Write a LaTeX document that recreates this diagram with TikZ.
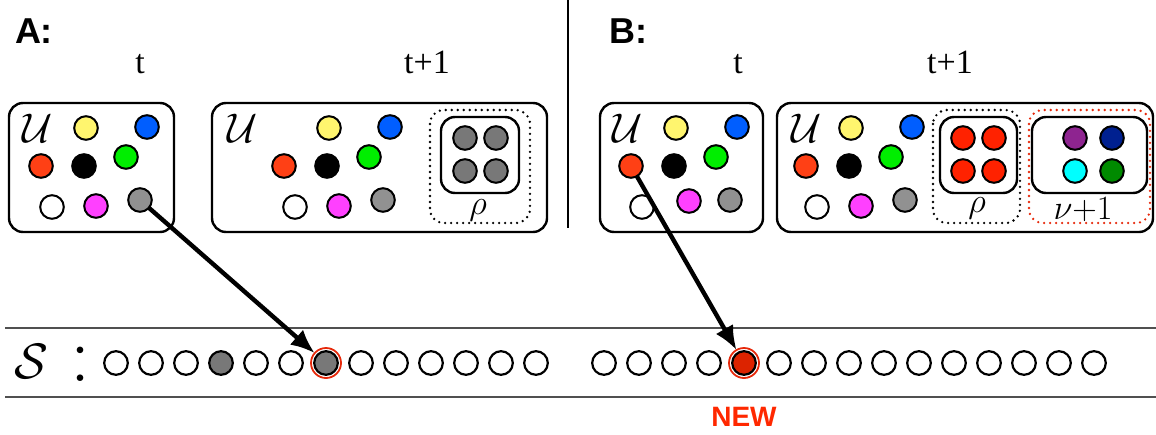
\documentclass[tikz,border=0pt]{standalone}
\usepackage{fontspec}
\usetikzlibrary{arrows.meta}
\newfontfamily\labelsans{Liberation Sans}
\newfontfamily\labelserif{Liberation Serif}

\definecolor{dotyellow}{RGB}{255,245,110}
\definecolor{dotblue}{RGB}{0,94,255}
\definecolor{dotred}{RGB}{255,64,21}
\definecolor{dotblack}{RGB}{0,0,0}
\definecolor{dotgreen}{RGB}{0,238,0}
\definecolor{dotwhite}{RGB}{255,255,255}
\definecolor{dotmagenta}{RGB}{255,64,255}
\definecolor{dotgray}{RGB}{145,145,145}
\definecolor{clustergray}{RGB}{120,120,120}
\definecolor{clusterred}{RGB}{255,34,0}
\definecolor{dotpurple}{RGB}{142,36,144}
\definecolor{dotnavy}{RGB}{0,32,144}
\definecolor{dotcyan}{RGB}{0,255,255}
\definecolor{dotdkgreen}{RGB}{0,138,0}
\definecolor{slotgray}{RGB}{120,120,120}
\definecolor{slotred}{RGB}{220,35,0}
\definecolor{ringred}{RGB}{230,40,10}
\definecolor{newred}{RGB}{255,40,0}
\definecolor{rulegray}{RGB}{80,80,80}

\begin{document}
\begin{tikzpicture}[x=0.5pt, y=-0.5pt]
\tikzset{ >={Latex[length=12pt,width=10pt]}, inner sep=0pt, outer sep=0pt,
  dot/.style={circle, draw, line width=1pt, minimum size=11.8pt},
  slot/.style={circle, draw, line width=1.1pt, minimum size=11.8pt},
  ring/.style={circle, draw=ringred, line width=0.9pt, minimum size=15pt},
  box/.style={draw, line width=1.2pt, rounded corners=7pt},
  group/.style={draw, line width=1.3pt, line cap=round, dash pattern=on 0pt off 3pt, rounded corners=7pt},
  rule/.style={draw=rulegray, line width=0.8pt},
  panel/.style={font=\fontsize{18}{20}\selectfont\labelsans\bfseries},
  time/.style={font=\fontsize{17}{20}\selectfont\labelserif, anchor=base},
  uset/.style={font=\fontsize{20}{24}\selectfont},
  pick/.style={->, line width=2.2pt},
}
\useasboundingbox (0,0) rectangle (1156,434);

%\draw [lightgray, dashed] (0,0) grid[step=50] (1156,434);

% panel labels
\node [panel] (labA) at (34,31) {A:};
\node [panel] (labB) at (628,31) {B:};
\node [time] (tA)  at (140,73) {t};
\node [time] (tA1) at (427,73) {t+1};
\node [time] (tB)  at (738,73) {t};
\node [time] (tB1) at (950,73) {t+1};

\draw [line width=0.8pt] (568,0) -- (568,228);

% boxes
\draw [box] (9,103)   rectangle (174,232);
\draw [box] (212,103) rectangle (547,232);
\draw [box] (600,103) rectangle (763,232);
\draw [box] (777,103) rectangle (1153,232);

\node [uset] (a1-U) at (38,128)  {$\mathcal{U}$};
\node [uset] (a2-U) at (243,128) {$\mathcal{U}$};
\node [uset] (b1-U) at (628,128) {$\mathcal{U}$};
\node [uset] (b2-U) at (807,128) {$\mathcal{U}$};

% universe dots
\begin{scope}[name prefix=a1-]
\foreach \c/\x/\y in {yellow/86/128, blue/147/127, red/41/166, black/84/166, green/126/157, white/52/207, magenta/96/206, gray/140/200}
  \node [dot, fill=dot\c] (\c) at (\x,\y) {};
\end{scope}
\begin{scope}[shift={(243,0)}, name prefix=a2-]
\foreach \c/\x/\y in {yellow/86/128, blue/147/127, red/41/166, black/84/166, green/126/157, white/52/207, magenta/96/206, gray/140/200}
  \node [dot, fill=dot\c] (\c) at (\x,\y) {};
\end{scope}
\begin{scope}[shift={(590,0)}, name prefix=b1-]
\foreach \c/\x/\y in {yellow/86/128, blue/147/127, red/41/166, black/84/166, green/126/157, white/52/207, magenta/99/201, gray/140/200}
  \node [dot, fill=dot\c] (\c) at (\x,\y) {};
\end{scope}
\begin{scope}[shift={(765,0)}, name prefix=b2-]
\foreach \c/\x/\y in {yellow/86/128, blue/147/127, red/41/166, black/84/166, green/126/157, white/52/207, magenta/96/206, gray/140/200}
  \node [dot, fill=dot\c] (\c) at (\x,\y) {};
\end{scope}

% clusters
\draw [group] (430,110) rectangle (530,223);
\draw [box]   (441,117) rectangle (519,193);
\foreach \n/\x/\y in {1/465/138, 2/496/138, 3/465/171, 4/496/171}
  \node [dot, fill=clustergray] (rhoA\n) at (\x,\y) {};
\node [font=\fontsize{18}{20}\selectfont] (rhoA) at (478,210) {$\rho$};

\draw [group] (933,110) rectangle (1020,223);
\draw [box]   (940,117) rectangle (1017,193);
\foreach \n/\x/\y in {1/963/138, 2/994/138, 3/963/171, 4/994/171}
  \node [dot, fill=clusterred] (rhoB\n) at (\x,\y) {};
\node [font=\fontsize{18}{20}\selectfont] (rhoB) at (977,208) {$\rho$};

\draw [group, draw=ringred] (1029,110) rectangle (1150,223);
\draw [box]   (1032,117) rectangle (1147,193);
\node [dot, fill=dotpurple]  (nu1) at (1075,138) {};
\node [dot, fill=dotnavy]    (nu2) at (1112,138) {};
\node [dot, fill=dotcyan]    (nu3) at (1075,171) {};
\node [dot, fill=dotdkgreen] (nu4) at (1112,171) {};
\node [font=\fontsize{17}{20}\selectfont] (nuB) at (1083,209) {$\nu$+1};

% sequence
\draw [rule] (5,328) -- (1156,328);
\draw [rule] (5,397) -- (1156,397);
\node [font=\fontsize{29}{32}\selectfont] (S) at (31,361) {$\mathcal{S}$};
\node [font=\fontsize{40}{44}\selectfont] (colon) at (80,364) {:};

\foreach \f [count=\i from 0] in {white,white,white,slotgray,white,white,slotgray,white,white,white,white,white,white}
  \node [slot, fill=\f] (sa\i) at ({116+35*\i},363) {};
\foreach \f [count=\i from 0] in {white,white,white,white,slotred,white,white,white,white,white,white,white,white,white,white}
  \node [slot, fill=\f] (sb\i) at ({604+35*\i},363) {};

\node [ring] (hitA) at (sa6) {};
\node [ring] (hitB) at (sb4) {};
\node [font=\fontsize{14}{16}\selectfont\labelsans\bfseries, text=newred] (new) at (744,417) {NEW};

\draw [pick] (a1-gray) -- (hitA);
\draw [pick] (b1-red)  -- (hitB);
\end{tikzpicture}
\end{document}
